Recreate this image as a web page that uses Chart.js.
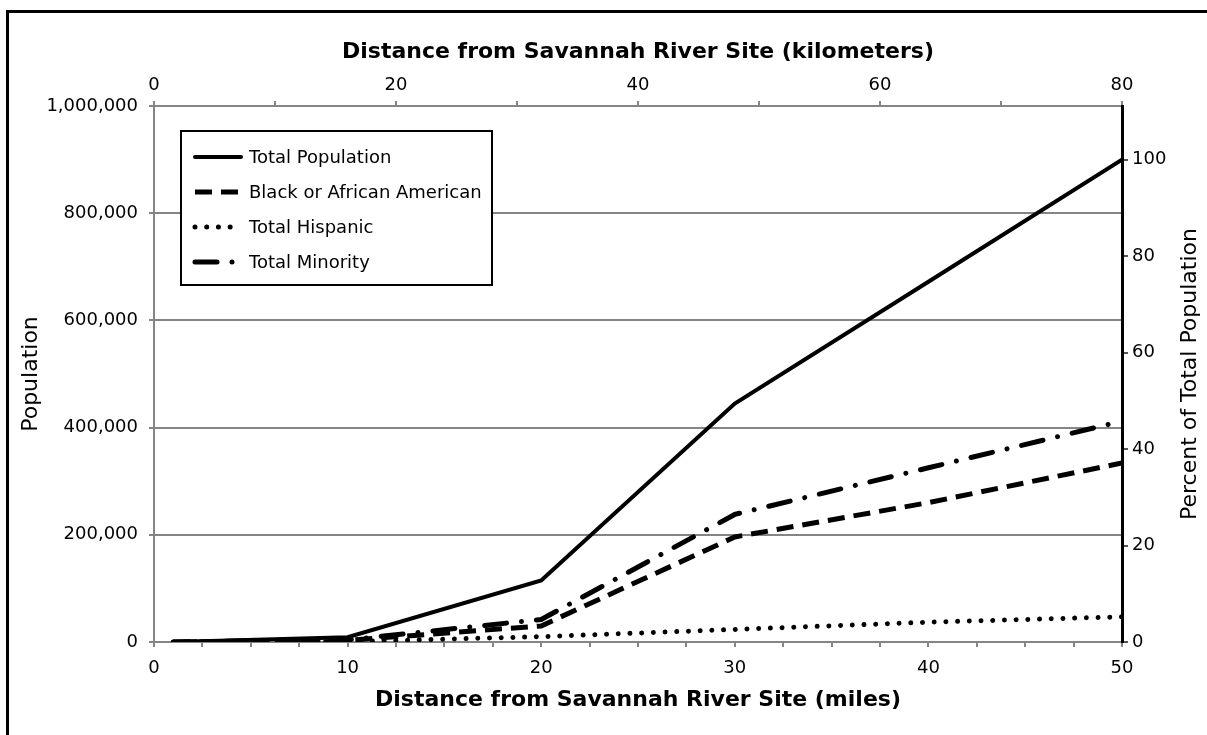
<!DOCTYPE html>
<html>
<head>
<meta charset="utf-8">
<script src="https://cdn.jsdelivr.net/npm/chart.js@4/dist/chart.umd.min.js"></script>
<style>
  html, body { margin: 0; padding: 0; background: #fff; overflow: hidden; }
  #frame { position: absolute; left: 6px; top: 10px; width: 1400px; height: 900px;
           border-top: 3px solid #000; border-left: 3px solid #000; }
  #chart { position: absolute; left: 0; top: 0; }
</style>
</head>
<body>
<div id="frame"></div>
<canvas id="chart" width="1207" height="735"></canvas>
<script>
// distance rings (miles) and population
const miles = [1, 10, 20, 30, 40, 50];
const totalPopulation = [200, 9000, 115000, 445000, 672000, 900000];
const blackAfrican = [100, 3000, 30000, 196000, 260000, 334000];
const totalHispanic = [20, 500, 10000, 23500, 37000, 47000];
const totalMinority = [150, 4000, 42000, 238000, 325000, 412000];
const seriesNames = ['Total Population', 'Black or African American', 'Total Hispanic', 'Total Minority'];

// tick labels
const mileLabels = [0, 10, 20, 30, 40, 50];
const kmLabels = [0, 20, 40, 60, 80];
const populationMax = 1000000;
const percentTitle = 'Percent of Total Population';

const FONT = 'DejaVu Sans';
Chart.defaults.font.family = FONT;
Chart.defaults.color = '#000';

// 100 percent = total population at 50 miles
const percentMax = populationMax / totalPopulation[totalPopulation.length - 1] * 100;

function points(values) {
    return miles.map((m, i) => ({ x: m, y: values[i] }));
}

// legend drawn inside the plot, boxed like the original
const legendBox = {
    id: 'legendBox',
    afterDraw(chart) {
        const ctx = chart.ctx;
        const left = 181, top = 131, width = 311, height = 154;
        ctx.save();
        ctx.fillStyle = '#fff';
        ctx.fillRect(left, top, width, height);
        ctx.lineWidth = 2;
        ctx.strokeStyle = '#000';
        ctx.strokeRect(left, top, width, height);
        chart.data.datasets.forEach((ds, i) => {
            const y = top + 26 + i * 35;
            ctx.beginPath();
            ctx.setLineDash(ds.borderDash || []);
            ctx.lineCap = ds.borderCapStyle || 'butt';
            ctx.lineWidth = ds.borderWidth;
            ctx.strokeStyle = ds.borderColor;
            ctx.moveTo(left + 14, y);
            ctx.lineTo(left + 60, y);
            ctx.stroke();
            ctx.setLineDash([]);
            ctx.fillStyle = '#000';
            ctx.font = '18px "' + FONT + '"';
            ctx.textBaseline = 'middle';
            ctx.fillText(ds.label, left + 68, y + 1);
        });
        ctx.restore();
    }
};

// right axis title reads bottom-to-top in the original
const rightTitle = {
    id: 'rightTitle',
    afterDraw(chart) {
        const ctx = chart.ctx;
        const area = chart.chartArea;
        ctx.save();
        ctx.translate(1190, (area.top + area.bottom) / 2);
        ctx.rotate(-Math.PI / 2);
        ctx.font = '22px "' + FONT + '"';
        ctx.fillStyle = '#000';
        ctx.textAlign = 'center';
        ctx.textBaseline = 'middle';
        ctx.fillText(percentTitle, 0, 0);
        ctx.restore();
    }
};

const gray = '#858585';

new Chart(document.getElementById('chart'), {
    type: 'line',
    data: {
        datasets: [
            { label: seriesNames[0], data: points(totalPopulation), borderColor: '#000', borderWidth: 4,
              borderCapStyle: 'round' },
            { label: seriesNames[1], data: points(blackAfrican), borderColor: '#000', borderWidth: 5,
              borderDash: [17, 9] },
            { label: seriesNames[2], data: points(totalHispanic), borderColor: '#000', borderWidth: 5,
              borderDash: [0.01, 11.7], borderCapStyle: 'round' },
            { label: seriesNames[3], data: points(totalMinority), borderColor: '#000', borderWidth: 5,
              borderDash: [22, 15, 0.01, 15], borderCapStyle: 'round' }
        ]
    },
    options: {
        responsive: false,
        animation: false,
        devicePixelRatio: 1,
        layout: { padding: 0 },
        elements: { point: { radius: 0 }, line: { tension: 0 } },
        plugins: { legend: { display: false }, tooltip: { enabled: false } },
        scales: {
            x: {
                type: 'linear', position: 'bottom', min: 0, max: 50,
                afterFit: s => { s.height = 93; },
                border: { color: gray, width: 2 },
                grid: { drawOnChartArea: false, color: gray, lineWidth: 2, tickLength: 5 },
                ticks: {
                    stepSize: 2.5, autoSkip: false, maxRotation: 0, padding: 11,
                    font: { size: 18 },
                    callback: v => mileLabels.includes(v) ? String(v) : ''
                },
                title: { display: true, text: 'Distance from Savannah River Site (miles)',
                         font: { size: 22, weight: 'bold' }, padding: { top: 0, bottom: 22 } }
            },
            x2: {
                type: 'linear', position: 'top', min: 0, max: 80,
                afterFit: s => { s.height = 106; },
                border: { color: gray, width: 2 },
                grid: { drawOnChartArea: false, color: gray, lineWidth: 2, tickLength: 5 },
                ticks: {
                    stepSize: 10, autoSkip: false, maxRotation: 0, padding: 5,
                    font: { size: 18 },
                    callback: v => kmLabels.includes(v) ? String(v) : ''
                },
                title: { display: true, text: 'Distance from Savannah River Site (kilometers)',
                         font: { size: 22, weight: 'bold' }, padding: { top: 39, bottom: 0 } }
            },
            y: {
                position: 'left', min: 0, max: populationMax,
                afterFit: s => { s.width = 154; },
                border: { color: gray, width: 2 },
                grid: { color: gray, lineWidth: 2, tickLength: 5 },
                ticks: {
                    stepSize: 200000, padding: 11, font: { size: 18 },
                    callback: v => v.toLocaleString('en-US')
                },
                title: { display: true, text: 'Population', font: { size: 22 },
                         padding: { top: 18, bottom: 0 } }
            },
            y2: {
                position: 'right', min: 0, max: percentMax,
                afterFit: s => { s.width = 85; },
                border: { color: '#000', width: 3 },
                grid: { drawOnChartArea: false, color: '#555', lineWidth: 2, tickLength: 6 },
                ticks: { stepSize: 20, includeBounds: false, padding: 4, font: { size: 18 } },
                title: { display: false }
            }
        }
    },
    plugins: [legendBox, rightTitle]
});
</script>
</body>
</html>
